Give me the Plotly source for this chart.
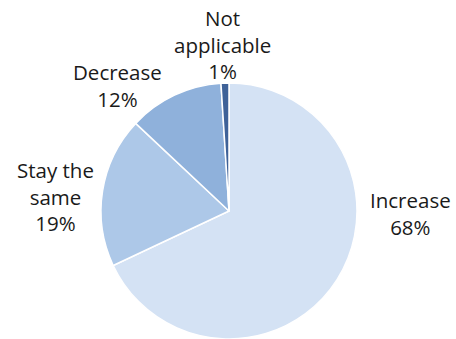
import plotly.graph_objects as go

categories = ["Increase", "Stay the same", "Decrease", "Not applicable"]
values = [68, 19, 12, 1]
label_text = ["Increase", "Stay the<br>same", "Decrease", "Not<br>applicable"]
colors = ["#D4E2F4", "#ADC8E8", "#8FB1DB", "#3F6298"]

W, H = 456, 339
fig = go.Figure(go.Pie(
    labels=categories, values=values, sort=False, direction="clockwise",
    rotation=0, textinfo="none", hoverinfo="label+percent",
    marker=dict(colors=colors, line=dict(color="white", width=1.5)),
    domain=dict(x=[101 / W, 357 / W], y=[0, 256 / H]),
    showlegend=False,
))

# label centre positions (pixels from top-left)
pos = [(410, 213), (55, 196), (117, 85), (222, 44)]
for txt, v, (px, py) in zip(label_text, values, pos):
    fig.add_annotation(
        x=px / W, y=1 - py / H, xref="paper", yref="paper",
        text=f"{txt}<br>{v}%", showarrow=False, align="center",
        xanchor="center", yanchor="middle",
        font=dict(family="Open Sans", size=20.5, color="#1a1a1a"),
    )

fig.update_layout(
    width=W, height=H, margin=dict(l=0, r=0, t=0, b=0),
    paper_bgcolor="white", plot_bgcolor="white",
)
fig.write_html("out.html")
